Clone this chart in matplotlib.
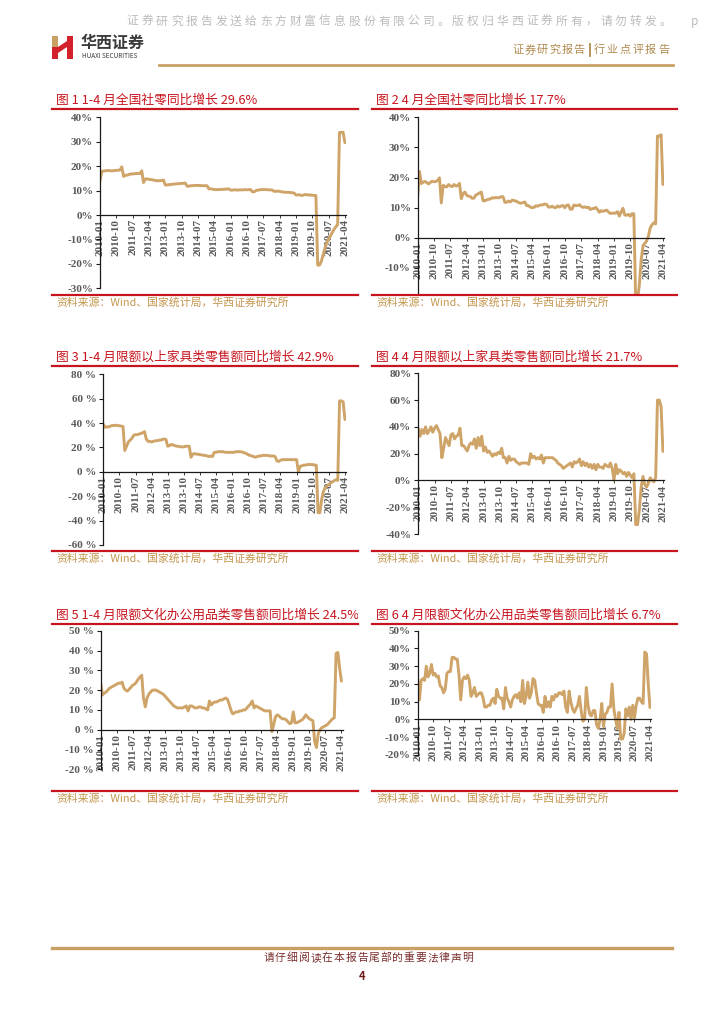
import numpy as np
import matplotlib
matplotlib.use("Agg")
import matplotlib.pyplot as plt
from matplotlib.lines import Line2D
from matplotlib.patches import Polygon
from matplotlib.transforms import Bbox, TransformedBbox

plt.rcParams['font.family'] = ['Noto Sans CJK SC', 'DejaVu Sans']

# ---------------- data (2010-01 .. 2021-04, monthly) ----------------
tick_labels = ["2010-01", "2010-10", "2011-07", "2012-04", "2013-01", "2013-10",
               "2014-07", "2015-04", "2016-01", "2016-10", "2017-07", "2018-04",
               "2019-01", "2019-10", "2020-07", "2021-04"]

# 图1 社零累计同比
retail_ytd = [
    14.0, 17.9, 18.0, 18.1, 18.2, 18.2, 18.1, 18.1, 18.2, 18.3, 18.3, 18.4,
    19.7, 15.8, 16.3, 16.3, 16.6, 16.8, 16.8, 16.9, 17.0, 17.0, 17.0, 18.1,
    13.3, 14.7, 14.8, 14.6, 14.5, 14.4, 14.2, 14.1, 14.0, 14.1, 14.1, 14.3,
    12.3, 12.3, 12.4, 12.5, 12.6, 12.7, 12.7, 12.8, 12.9, 12.9, 13.0, 13.1,
    11.8, 11.8, 12.0, 12.0, 12.1, 12.1, 12.1, 12.1, 12.0, 12.0, 12.0, 12.0,
    10.7, 10.7, 10.6, 10.4, 10.4, 10.4, 10.4, 10.5, 10.5, 10.6, 10.6, 10.7,
    10.2, 10.2, 10.3, 10.3, 10.2, 10.3, 10.3, 10.3, 10.4, 10.3, 10.4, 10.4,
    9.5, 9.5, 10.0, 10.2, 10.3, 10.4, 10.4, 10.4, 10.4, 10.3, 10.3, 10.2,
    9.7, 9.7, 9.8, 9.7, 9.5, 9.4, 9.3, 9.3, 9.3, 9.2, 9.1, 9.0,
    8.2, 8.2, 8.3, 8.0, 8.1, 8.4, 8.3, 8.2, 8.2, 8.1, 8.0, 8.0,
    -20.5, -20.5, -19.0, -16.2, -13.5, -11.4, -9.9, -8.6, -7.2, -5.9, -4.8, -3.9,
    33.8, 33.8, 33.9, 29.6]

# 图2 社零当月同比
retail_month = [
    14.0, 22.0, 18.0, 18.5, 18.7, 18.3, 17.9, 18.4, 18.8, 18.6, 18.7, 19.1,
    19.9, 11.6, 17.4, 17.1, 16.9, 17.7, 17.2, 17.0, 17.7, 17.2, 17.3, 18.1,
    13.0, 14.7, 15.2, 14.1, 13.8, 13.7, 13.1, 13.2, 14.2, 14.5, 14.9, 15.2,
    12.3, 12.3, 12.6, 12.8, 12.9, 13.3, 13.2, 13.4, 13.3, 13.3, 13.7, 13.6,
    11.8, 11.8, 12.2, 11.9, 12.5, 12.4, 12.2, 11.9, 11.6, 11.5, 11.7, 11.9,
    10.7, 10.7, 10.2, 10.0, 10.1, 10.6, 10.5, 10.8, 10.9, 11.0, 11.2, 11.1,
    10.2, 10.2, 10.5, 10.1, 10.0, 10.6, 10.2, 10.6, 10.7, 10.0, 10.8, 10.9,
    9.5, 9.5, 10.9, 10.7, 10.7, 11.0, 10.4, 10.1, 10.3, 10.0, 10.2, 9.4,
    9.7, 9.7, 10.1, 9.4, 8.5, 9.0, 8.8, 9.0, 9.2, 8.6, 8.1, 8.2,
    8.2, 8.2, 8.7, 7.2, 8.6, 9.8, 7.6, 7.5, 7.8, 7.2, 8.0, 8.0,
    -20.5, -20.5, -15.8, -7.5, -2.8, -1.8, -1.1, 0.5, 3.3, 4.3, 5.0, 4.6,
    33.8, 33.8, 34.2, 17.7]

# 图3 家具类累计同比
furniture_ytd = [
    39.0, 36.5, 37.0, 36.8, 37.5, 38.0, 38.0, 38.2, 38.0, 37.8, 37.5, 37.2,
    17.5, 21.0, 24.5, 26.0, 27.5, 30.0, 30.5, 30.5, 31.0, 31.5, 32.0, 33.0,
    27.0, 25.0, 25.0, 24.5, 25.0, 25.5, 25.5, 26.0, 26.0, 26.5, 27.0, 26.5,
    21.0, 21.5, 22.5, 22.0, 21.5, 21.0, 21.0, 20.5, 20.5, 20.5, 21.0, 21.0,
    21.0, 12.0, 14.5, 15.0, 14.5, 14.5, 14.0, 14.0, 13.5, 13.5, 13.0, 12.5,
    13.0, 12.5, 16.0, 16.0, 16.5, 16.5, 16.5, 16.5, 16.0, 16.0, 16.0, 16.0,
    16.0, 16.0, 16.5, 16.5, 16.5, 16.5, 16.0, 15.5, 15.0, 14.0, 13.5, 13.0,
    12.5, 12.0, 12.5, 13.0, 13.0, 13.5, 13.5, 13.5, 13.5, 13.0, 13.0, 13.0,
    12.5, 9.0, 8.5, 9.5, 10.0, 10.0, 10.0, 10.0, 10.0, 10.0, 10.0, 10.0,
    10.0, 0.0, 4.5, 5.0, 5.5, 5.5, 6.0, 6.0, 6.0, 6.0, 5.5, 5.5,
    -33.5, -33.5, -22.7, -16.1, -13.2, -11.5, -10.3, -9.3, -8.1, -7.2, -6.5, -7.0,
    58.2, 58.2, 57.4, 42.9]

# 图4 家具类当月同比
furniture_month = [
    39, 33, 38, 35, 40, 35, 37, 40, 36, 39, 41, 38,
    35, 17, 24, 32, 29, 26, 34, 35, 31, 33, 34, 39,
    26, 26, 24, 22, 26, 28, 27, 31, 24, 32, 26, 33,
    22, 25, 21, 22, 20, 18, 20, 19, 21, 20, 24, 17,
    17, 13, 18, 15, 16, 16, 14, 13, 12, 13, 13, 13,
    13, 12, 20, 17, 18, 16, 17, 16, 19, 13, 17, 17,
    17, 17, 17, 16, 15, 13, 12, 11, 9, 10, 11, 12,
    13, 10, 14, 13, 14, 16, 11, 14, 11, 13, 10, 12,
    9, 12, 8, 12, 10, 10, 9, 12, 11, 10, 13, 9,
    0, 12, 5, 8, 7, 5, 6, 3, 6, 4, 2, 5,
    -33, -33, -22, -5, 3, -3, -5, -2, 2, 0, -1, 2,
    60, 60, 55, 21.7]

# 图5 文化办公用品类累计同比
office_ytd = [
    23.5, 17.5, 18.5, 19.0, 20.0, 21.0, 21.5, 22.0, 22.5, 23.0, 23.5, 23.5,
    24.0, 21.0, 20.0, 19.5, 20.5, 21.5, 22.5, 23.0, 24.0, 25.5, 26.5, 27.5,
    16.0, 11.5, 16.0, 18.0, 19.0, 20.0, 20.0, 20.0, 19.5, 19.0, 18.5, 18.0,
    17.0, 16.0, 15.0, 14.0, 13.0, 12.0, 11.5, 11.0, 11.0, 11.0, 11.0, 11.5,
    12.0, 9.5, 12.0, 12.0, 11.5, 11.0, 11.0, 11.5, 11.5, 11.0, 11.0, 10.5,
    10.0, 14.5, 12.5, 13.5, 14.0, 14.0, 14.5, 15.0, 15.0, 15.5, 16.0, 15.5,
    13.0, 10.0, 8.0, 8.5, 9.0, 9.0, 9.5, 9.5, 10.0, 10.0, 11.0, 12.0,
    13.0, 14.5, 11.0, 12.0, 11.5, 11.0, 10.5, 10.0, 9.5, 9.5, 9.5, 9.5,
    -1.0, 2.5, 6.5, 7.5, 7.0, 6.0, 5.5, 5.5, 5.0, 4.0, 3.0, 3.5,
    9.0, 3.5, 3.5, 4.0, 4.5, 5.0, 6.0, 7.5, 6.5, 5.5, 5.0, 4.5,
    -6.0, -9.0, -2.0, 0.0, 1.0, 1.5, 2.0, 2.5, 3.5, 4.5, 5.5, 6.0,
    38.5, 39.0, 31.0, 24.5]

# 图6 文化办公用品类当月同比
office_month = [
    23, 11, 22, 23, 22, 30, 24, 26, 31, 25, 26, 24,
    24.5, 19, 18, 15, 17, 26, 27, 27, 35, 35, 34, 34,
    25, 11, 22, 24, 23, 25, 22, 13, 15, 18, 13, 14,
    15, 15, 12, 7, 7, 8, 8, 11, 12, 9, 17, 13,
    12, 12, 6, 18, 12, 10, 7, 11, 13, 14, 12, 15,
    10, 22, 9, 13, 21, 12, 15, 23, 22, 15, 9, 8,
    8, 4, 13, 7, 10, 7, 13, 11, 14, 13, 15, 15,
    14, 16, 7, 4, 16, 10, 6, 4, 6, 8, 13, 5,
    -1, 0, 18, 8, 3, 2, 5, 5, -3, -5, 0, 9,
    -4, 3, 4, 7, 7, 20, 6, 0, -5, 4, -11, -11,
    -8, 6, 2, 7, 0, 8, 1, 8, 12, 12, 10, 9,
    38, 37, 20, 6.7]

titles = ["图 1 1-4 月全国社零同比增长 29.6%",
          "图 2 4 月全国社零同比增长 17.7%",
          "图 3 1-4 月限额以上家具类零售额同比增长 42.9%",
          "图 4 4 月限额以上家具类零售额同比增长 21.7%",
          "图 5 1-4 月限额文化办公用品类零售额同比增长 24.5%",
          "图 6 4 月限额文化办公用品类零售额同比增长 6.7%"]
source = "资料来源：Wind、国家统计局，华西证券研究所"

# ---------------- styling ----------------
W, H = 724, 1024
LINE = '#CFA468'
RED = '#C8141E'
GOLD = '#C9A063'
SRC = '#C4964F'
TICK = '#595959'


def fx(x):
    return x / W


def fy(y):
    return 1 - y / H


fig = plt.figure(figsize=(W / 100, H / 100), dpi=100)


def hline(x0, x1, y, color, lw):
    fig.add_artist(Line2D([fx(x0), fx(x1)], [fy(y), fy(y)],
                          transform=fig.transFigure, color=color, lw=lw))


def spaced(x, y, s, pitch, **kw):
    # draw characters one by one with a fixed pitch (letter spacing)
    for i, ch in enumerate(s):
        fig.text(fx(x + (i + 0.5) * pitch), fy(y), ch, ha='center', va='center', **kw)


def chart(box, yr, yticks, ylab, values, title, pane):
    x0, x1, ytop, ybot, toff, rule_y = box
    ymin, ymax = yr
    px0, px1 = pane
    # title + red rules + source
    t = fig.text(fx(px0 + 4), fy(100 + toff), title, color=RED, fontsize=9.2,
                 ha='left', va='center')
    t.set_clip_box(TransformedBbox(Bbox.from_extents(fx(px0), 0, fx(px1), 1), fig.transFigure))
    t.set_clip_on(True)
    hline(px0, px1, 109 + toff, RED, 1.6)
    hline(px0, px1, rule_y, RED, 1.6)
    fig.text(fx(px0 + 4), fy(rule_y + 8), source, color=SRC, fontsize=7.8,
             ha='left', va='center')

    ax = fig.add_axes([fx(x0), fy(ybot), (x1 - x0) / W, (ybot - ytop) / H])
    ax.plot(np.arange(len(values)), values, color=LINE, lw=2.1,
            solid_joinstyle='round', solid_capstyle='round')
    ax.set_xlim(0, 135.6)
    ax.set_ylim(ymin, ymax)
    ax.patch.set_visible(False)
    for s in ['top', 'right']:
        ax.spines[s].set_visible(False)
    ax.spines['bottom'].set_position(('data', 0))
    for s in ['left', 'bottom']:
        ax.spines[s].set_color('#1a1a1a')
        ax.spines[s].set_linewidth(0.9)
    ax.set_yticks(yticks)
    ax.set_yticklabels(ylab, family=['Liberation Serif'], weight='bold',
                       color=TICK, fontsize=8)
    ax.set_xticks(np.arange(0, 136, 9))
    ax.set_xticklabels(tick_labels, rotation=90, family=['Liberation Serif'],
                       weight='bold', color=TICK, fontsize=8)
    ax.tick_params(axis='y', length=3, width=0.8, pad=2, color='#1a1a1a')
    ax.tick_params(axis='x', length=2, width=0.6, pad=1, color='#1a1a1a')
    return ax


def pct(vals, sep=""):
    return [f"{v}{sep}%" for v in vals]


L_PANE = (52, 358)
R_PANE = (372, 677)

# (x0, x1, ytop, ybot, title offset, bottom rule y)
chart((100, 346, 117.3, 288.3, 0, 294.5), (-30, 40), range(-30, 41, 10),
      pct(range(-30, 41, 10)), retail_ytd, titles[0], L_PANE)
chart((417.7, 664, 117.3, 294.5, 0, 294.5), (-18.8, 40), range(-10, 41, 10),
      pct(range(-10, 41, 10)), retail_month, titles[1], R_PANE)
chart((103.3, 346, 374.3, 545, 257, 550.5), (-60, 80), range(-60, 81, 20),
      pct(range(-60, 81, 20), " "), furniture_ytd, titles[2], L_PANE)
chart((418.3, 664, 373.3, 534, 257, 550.5), (-40, 80), range(-40, 81, 20),
      pct(range(-40, 81, 20)), furniture_month, titles[3], R_PANE)
chart((100.7, 342.5, 630.7, 769.3, 515, 790.5), (-20, 50), range(-20, 51, 10),
      pct(range(-20, 51, 10), " "), office_ytd, titles[4], L_PANE)
chart((417.7, 651, 630.7, 755, 515, 790.5), (-20, 50), range(-20, 51, 10),
      pct(range(-20, 51, 10)), office_month, titles[5], R_PANE)

# ---------------- header ----------------
spaced(125, 21, "证券研究报告发送给东方财富信息股份有限公司。版权归华西证券所有，请勿转发。 p",
       14.8, color='#BBBBBB', fontsize=8.5)

# logo mark
logo = [
    ([(52, 36), (58, 36), (58, 47), (52, 47)], GOLD),
    ([(52, 47), (58, 47), (58, 59), (52, 59)], '#D3202A'),
    ([(58, 47), (67, 41), (67, 47), (58, 53)], '#D3202A'),
    ([(67, 36), (73, 36), (73, 59), (67, 59)], '#D3202A'),
]
for pts, c in logo:
    fig.add_artist(Polygon([(fx(a), fy(b)) for a, b in pts], closed=True,
                           transform=fig.transFigure, color=c, lw=0))
fig.text(fx(81), fy(43), "华西证券", fontsize=11.5, weight='bold', color='#3A3A3A',
         ha='left', va='center')
fig.text(fx(82), fy(56.5), "HUAXI SECURITIES", fontsize=4.6, color='#3A3A3A',
         ha='left', va='center')

spaced(512, 50, "证券研究报告", 12.2, color='#B08A50', fontsize=8)
spaced(593, 50, "行业点评报告", 12.8, color='#B08A50', fontsize=8)
fig.add_artist(Line2D([fx(589.5), fx(589.5)], [fy(44), fy(56)],
                      transform=fig.transFigure, color='#B08A50', lw=1.3))
hline(159, 673, 64.5, GOLD, 2.0)

# ---------------- footer ----------------
hline(52, 672, 948, GOLD, 2.4)
spaced(263, 958, "请仔细阅读在本报告尾部的重要法律声明", 11.7, color='#7A2E2E', fontsize=7.8)
fig.text(fx(362), fy(977), "4", fontsize=8, weight='bold', color='#6E1A1A',
         ha='center', va='center')

fig.savefig("out.png", dpi=100)
